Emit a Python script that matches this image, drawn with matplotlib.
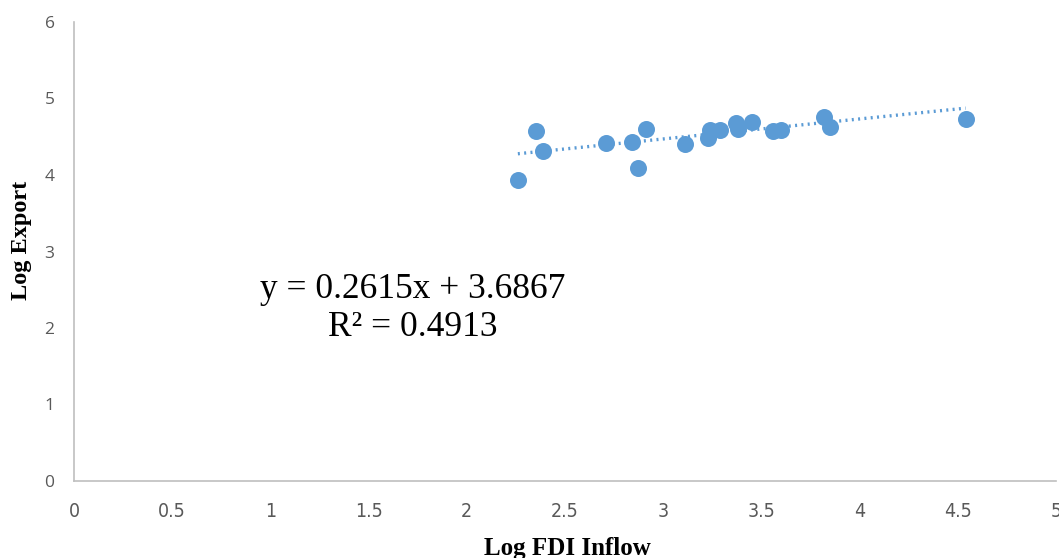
import numpy as np
import matplotlib.pyplot as plt

# Data
log_fdi = [2.26, 2.35, 2.39, 2.71, 2.84, 2.87, 2.91, 3.11, 3.23, 3.24,
           3.29, 3.37, 3.38, 3.45, 3.56, 3.60, 3.82, 3.85, 4.54]
log_export = [3.93, 4.58, 4.31, 4.42, 4.43, 4.09, 4.60, 4.41, 4.48, 4.59,
              4.59, 4.68, 4.60, 4.69, 4.58, 4.59, 4.76, 4.63, 4.73]
slope, intercept = 0.2615, 3.6867
r2 = 0.4913
x_ticks = [0, 0.5, 1, 1.5, 2, 2.5, 3, 3.5, 4, 4.5, 5]
y_ticks = [0, 1, 2, 3, 4, 5, 6]

blue = '#5B9BD5'
grey_txt = '#595959'

fig = plt.figure(figsize=(10.59, 5.58), dpi=100)
ax = fig.add_axes([74 / 1059, 77 / 558, (1056 - 74) / 1059, (481 - 22) / 558])

ax.scatter(log_fdi, log_export, s=150, color=blue, zorder=3, linewidths=0)

# Linear trendline over the data range
xt = np.array([min(log_fdi), max(log_fdi)])
ax.plot(xt, slope * xt + intercept, color=blue, lw=2.4, ls=(0, (0.6, 1.3)),
        zorder=2)

ax.set_xlim(0, 5)
ax.set_ylim(0, 6)
ax.set_xticks(x_ticks)
ax.set_yticks(y_ticks)
ax.set_xticklabels([f'{v:g}' for v in x_ticks], family='DejaVu Sans',
                   stretch='condensed', fontsize=14, color=grey_txt)
ax.set_yticklabels([str(v) for v in y_ticks], family='Open Sans',
                   fontsize=12.5, color=grey_txt)
ax.tick_params(axis='both', length=0)
ax.tick_params(axis='x', pad=15)
ax.tick_params(axis='y', pad=14)

for s in ['top', 'right']:
    ax.spines[s].set_visible(False)
for s in ['left', 'bottom']:
    ax.spines[s].set_color('#BFBFBF')
    ax.spines[s].set_linewidth(1.2)

fig.text(567 / 1059, 1 - 548 / 558, 'Log FDI Inflow', family='Liberation Serif',
         fontweight='bold', fontsize=18, ha='center', va='center')
fig.text(22 / 1059, 1 - 240 / 558, 'Log Export', family='Liberation Serif',
         fontweight='bold', fontsize=17.5, ha='center', va='center', rotation=90)

ax.text(413 / 1059, 1 - 290 / 558, f'y = {slope}x + {intercept}',
        transform=fig.transFigure, family='Liberation Serif', fontsize=25.5,
        ha='center', va='center')
ax.text(413 / 1059, 1 - 328 / 558, f'R² = {r2}',
        transform=fig.transFigure, family='Liberation Serif', fontsize=25.5,
        ha='center', va='center')

fig.savefig('out.png', dpi=100)
